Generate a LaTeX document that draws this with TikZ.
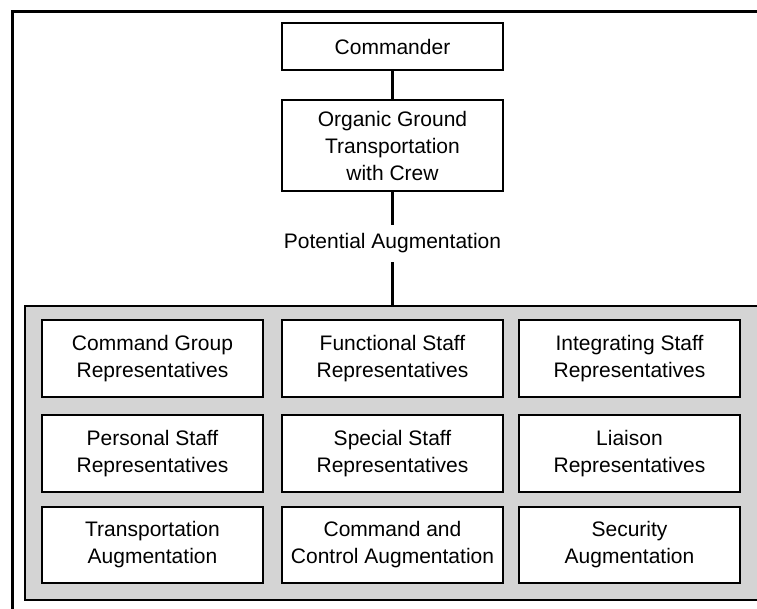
\documentclass[tikz,border=0pt]{standalone}
\usepackage{fontspec}
\setmainfont{Liberation Sans}
\begin{document}
\begin{tikzpicture}[x=1pt,y=-1pt,
  orgbox/.style={draw=black, line width=2.5pt, fill=white, align=center,
    inner sep=0pt, font=\fontsize{21}{27}\selectfont},
  cellbox/.style={orgbox, minimum width=221pt, minimum height=77pt},
  link/.style={draw=black, line width=2.5pt}]
  \useasboundingbox (0,0) rectangle (757,609);
  \clip (0,0) rectangle (757,609);
  % outer frame
  \draw[line width=3pt] (12.5,11.5) rectangle (790,640);
  % grey panel holding the representative cells
  \draw[line width=2.5pt, fill=black!17] (25,306) rectangle (790,600);

  % chain of command at the top
  \node[orgbox, minimum width=221pt, minimum height=47pt] (cmd) at (392.5,46.5) {Commander};
  \node[orgbox, minimum width=221pt, minimum height=91pt] (ogt) at (392.5,145.5)
    {Organic Ground\\Transportation\\with Crew};
  \node[align=center, inner sep=0pt, minimum height=37pt,
    font=\fontsize{21}{27}\selectfont] (pot) at (392.5,243.5) {Potential Augmentation};
  \coordinate (panel) at (392.5,306);

  \draw[link] (cmd.south) -- (ogt.north);
  \draw[link] (ogt.south) -- (pot.north);
  \draw[link] (pot.south) -- (panel);

  % representative cells
  \node[cellbox] (c11) at (152.5,358.5) {Command Group\\Representatives};
  \node[cellbox] (c12) at (392.5,358.5) {Functional Staff\\Representatives};
  \node[cellbox] (c13) at (629.5,358.5) {Integrating Staff\\Representatives};
  \node[cellbox] (c21) at (152.5,453.5) {Personal Staff\\Representatives};
  \node[cellbox] (c22) at (392.5,453.5) {Special Staff\\Representatives};
  \node[cellbox] (c23) at (629.5,453.5) {Liaison\\Representatives};
  \node[cellbox, minimum height=76pt] (c31) at (152.5,545) {Transportation\\Augmentation};
  \node[cellbox, minimum height=76pt] (c32) at (392.5,545) {Command and\\Control Augmentation};
  \node[cellbox, minimum height=76pt] (c33) at (629.5,545) {Security\\Augmentation};
\end{tikzpicture}
\end{document}
